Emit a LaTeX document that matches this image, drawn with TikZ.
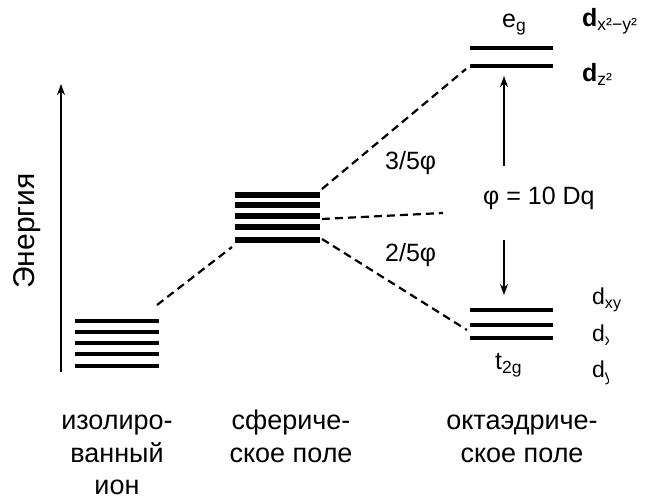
\documentclass[tikz,border=0pt]{standalone}
\usepackage{fontspec}
\setmainfont{Liberation Sans}
\usetikzlibrary{arrows.meta}
\begin{document}
\begin{tikzpicture}[x=1pt,y=-1pt,
  level/.style={line width=3.6pt},
  thicklevel/.style={line width=5.5pt},
  link/.style={line width=2.2pt, dash pattern=on 8pt off 5pt},
  axis/.style={line width=2pt, -{Stealth[length=11pt,width=8pt]}},
  gap/.style={line width=1.4pt, -{Stealth[length=11pt,width=8pt]}},
  lbl/.style={font=\fontsize{25}{27}\selectfont, inner sep=0pt, anchor=base west},
  dlbl/.style={font=\fontsize{23}{25}\selectfont, inner sep=0pt, anchor=base west},
  captext/.style={font=\fontsize{27}{29}\selectfont, inner sep=0pt, anchor=base}]
\useasboundingbox (0,0) rectangle (648,502);
\clip (0,0) rectangle (648,502);

% energy axis
\coordinate (ax0) at (61,372);
\coordinate (ax1) at (61,84);
\draw[axis] (ax0) -- (ax1);
\node[font=\fontsize{30}{32}\selectfont, inner sep=0pt, rotate=90] (energy) at (27,231) {Энергия};

% isolated ion: five degenerate levels
\foreach \y [count=\i] in {321,332,343,354,366}
  \draw[level] (75,\y) coordinate (iso\i l) -- (159,\y) coordinate (iso\i r);

% spherical field: five raised levels
\foreach \y [count=\i] in {195,205,216,227,240}
  \draw[thicklevel] (235,\y) coordinate (sph\i l) -- (320,\y) coordinate (sph\i r);

% octahedral field: e_g and t_2g
\foreach \y [count=\i] in {48,66}
  \draw[level] (470,\y) coordinate (eg\i l) -- (553,\y) coordinate (eg\i r);
\foreach \y [count=\i] in {310,325,338}
  \draw[level] (470,\y) coordinate (tg\i l) -- (553,\y) coordinate (tg\i r);

% correlation lines
\coordinate (c0) at (157,305);
\coordinate (c1) at (232,247);
\coordinate (c2) at (322,189);
\coordinate (c3) at (466,69);
\coordinate (c4) at (322,219);
\coordinate (c5) at (443,213);
\coordinate (c6) at (322,239);
\coordinate (c7) at (467,330);
\draw[link] (c0) -- (c1);
\draw[link] (c2) -- (c3);
\draw[link] (c4) -- (c5);
\draw[link] (c6) -- (c7);

% splitting arrows
\coordinate (up0) at (504,166);
\coordinate (up1) at (504,76);
\coordinate (dn0) at (504,240);
\coordinate (dn1) at (504,295);
\draw[gap] (up0) -- (up1);
\draw[gap] (dn0) -- (dn1);

% labels
\node[lbl] (eg) at (502,28) {e\textsubscript{g}};
\node[lbl] (t2g) at (495,370) {t\textsubscript{2g}};
\node[lbl, font=\fontsize{25}{27}\selectfont] (dx2y2) at (582,27) {\textbf{d}\textsubscript{x²−y²}};
\node[lbl, font=\fontsize{25}{27}\selectfont] (dz2) at (582,82) {\textbf{d}\textsubscript{z²}};
\node[dlbl] (dxy) at (592,305) {d\textsubscript{xy}};
\begin{scope}
  \clip (585,310) rectangle (608,390);
  \node[dlbl] (dxz) at (592,342) {d\textsubscript{xz}};
  \node[dlbl] (dyz) at (592,378) {d\textsubscript{yz}};
\end{scope}
\node[lbl] (three) at (385,170) {3/5φ};
\node[lbl] (two) at (385,262) {2/5φ};
\node[lbl] (delta) at (483,205) {φ = 10 Dq};

% captions
\node[captext] (iso-a) at (117,430) {изолиро-};
\node[captext] (iso-b) at (117,462) {ванный};
\node[captext] (iso-c) at (117,494) {ион};
\node[captext] (sph-a) at (291,430) {сфериче-};
\node[captext] (sph-b) at (291,462) {ское поле};
\node[captext] (oct-a) at (522,430) {октаэдриче-};
\node[captext] (oct-b) at (522,462) {ское поле};
\end{tikzpicture}
\end{document}
